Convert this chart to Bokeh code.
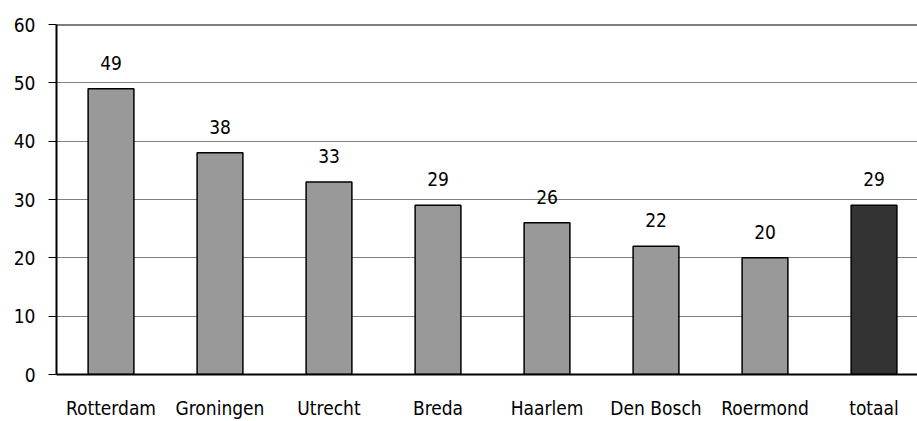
from bokeh.plotting import figure
from bokeh.models import ColumnDataSource, Range1d, FixedTicker, Span, LabelSet
from bokeh.core.properties import value
from bokeh.embed import file_html
from bokeh.resources import INLINE

categories = ["Rotterdam", "Groningen", "Utrecht", "Breda", "Haarlem", "Den Bosch", "Roermond", "totaal"]
values = [49, 38, 33, 29, 26, 22, 20, 29]
colors = ["#999999"] * 7 + ["#333333"]
y_ticks = [0, 10, 20, 30, 40, 50, 60]

FONT = "DejaVu Sans Condensed"
FS = "19px"

xs = list(range(1, len(categories) + 1))
src = ColumnDataSource(dict(x=xs, top=values, color=colors, label=[str(v) for v in values]))

p = figure(width=917, height=421, output_backend="svg", toolbar_location=None,
           x_range=Range1d(0.5, 8.399), y_range=Range1d(0, 60),
           min_border_left=56, min_border_right=0, min_border_top=24, min_border_bottom=47)
p.outline_line_color = None
p.background_fill_color = "white"
p.border_fill_color = "white"

p.vbar(x="x", top="top", width=0.42, bottom=0, source=src, fill_color="color",
       line_color="black", line_width=1.5)

labels = LabelSet(x="x", y="top", text="label", source=src, text_align="center",
                  text_baseline="alphabetic", y_offset=19, text_font=value(FONT),
                  text_font_size=value(FS), text_color="black")
p.add_layout(labels)

p.add_layout(Span(location=60, dimension="width", line_color="black", line_width=2))

p.xaxis.ticker = FixedTicker(ticks=xs)
p.xaxis.major_label_overrides = {x: c for x, c in zip(xs, categories)}
p.xaxis.major_tick_line_color = None
p.xaxis.major_tick_in = 0
p.xaxis.major_tick_out = 0
p.xaxis.minor_tick_line_color = None
p.xaxis.axis_line_color = "black"
p.xaxis.axis_line_width = 2
p.xaxis.major_label_standoff = 22
p.xaxis.major_label_text_font = FONT
p.xaxis.major_label_text_font_size = FS
p.xaxis.major_label_text_color = "black"

p.yaxis.ticker = FixedTicker(ticks=y_ticks)
p.yaxis.minor_tick_line_color = None
p.yaxis.major_tick_in = 0
p.yaxis.major_tick_out = 8
p.yaxis.major_tick_line_color = "black"
p.yaxis.axis_line_color = "black"
p.yaxis.axis_line_width = 2
p.yaxis.major_label_standoff = 13
p.yaxis.major_label_text_font = FONT
p.yaxis.major_label_text_font_size = FS
p.yaxis.major_label_text_color = "black"

p.xgrid.grid_line_color = None
p.ygrid.grid_line_color = "#808080"
p.ygrid.grid_line_width = 1
p.ygrid.ticker = FixedTicker(ticks=y_ticks)

open("out.html", "w").write(file_html(p, INLINE))
